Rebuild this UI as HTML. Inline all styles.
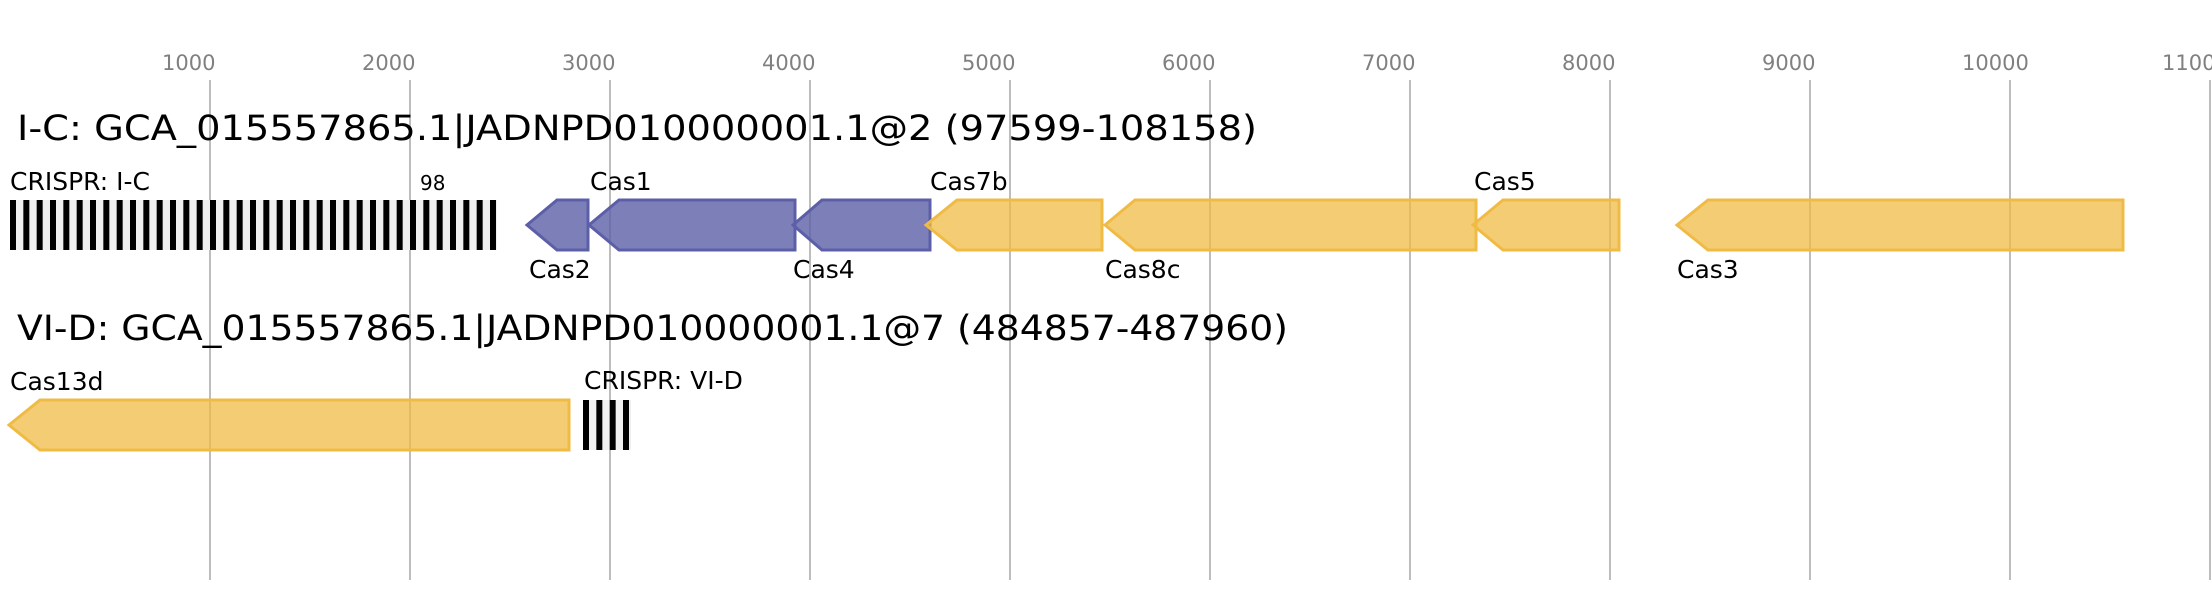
<!DOCTYPE html>
<html><head><meta charset="utf-8"><style>html,body{margin:0;padding:0;background:#fff}svg{display:block}</style></head>
<body>
<svg width="2212" height="600" viewBox="0 0 2212 600" xmlns="http://www.w3.org/2000/svg" font-family="DejaVu Sans, Liberation Sans, sans-serif">
<g stroke="#bdbdbd" stroke-width="2">
<line x1="210" y1="80" x2="210" y2="580"/><line x1="410" y1="80" x2="410" y2="580"/><line x1="610" y1="80" x2="610" y2="580"/><line x1="810" y1="80" x2="810" y2="580"/><line x1="1010" y1="80" x2="1010" y2="580"/><line x1="1210" y1="80" x2="1210" y2="580"/><line x1="1410" y1="80" x2="1410" y2="580"/><line x1="1610" y1="80" x2="1610" y2="580"/><line x1="1810" y1="80" x2="1810" y2="580"/><line x1="2010" y1="80" x2="2010" y2="580"/><line x1="2210" y1="80" x2="2210" y2="580"/>
</g>
<g fill="#808080" font-size="21">
<text x="162" y="70">1000</text><text x="362" y="70">2000</text><text x="562" y="70">3000</text><text x="762" y="70">4000</text><text x="962" y="70">5000</text><text x="1162" y="70">6000</text><text x="1362" y="70">7000</text><text x="1562" y="70">8000</text><text x="1762" y="70">9000</text><text x="1962" y="70">10000</text><text x="2162" y="70">11000</text>
</g>
<text x="17" y="140" font-size="35" textLength="1240" lengthAdjust="spacingAndGlyphs">I-C: GCA_015557865.1|JADNPD010000001.1@2 (97599-108158)</text>
<text x="17" y="340" font-size="35" textLength="1271" lengthAdjust="spacingAndGlyphs">VI-D: GCA_015557865.1|JADNPD010000001.1@7 (484857-487960)</text>
<g font-size="25">
<text x="10" y="190">CRISPR: I-C</text>
<text x="590" y="190">Cas1</text>
<text x="930" y="190">Cas7b</text>
<text x="1474" y="190">Cas5</text>
<text x="529" y="278">Cas2</text>
<text x="793" y="278">Cas4</text>
<text x="1105" y="278">Cas8c</text>
<text x="1677" y="278">Cas3</text>
<text x="10" y="390">Cas13d</text>
<text x="584" y="389">CRISPR: VI-D</text>
</g>
<text x="420" y="190" font-size="20">98</text>
<rect x="10" y="200" width="487" height="50" fill="#f0f0f0"/>
<g fill="#000">
<rect x="10" y="200" width="6" height="50"/><rect x="23.33" y="200" width="6" height="50"/><rect x="36.67" y="200" width="6" height="50"/><rect x="50" y="200" width="6" height="50"/><rect x="63.33" y="200" width="6" height="50"/><rect x="76.67" y="200" width="6" height="50"/><rect x="90" y="200" width="6" height="50"/><rect x="103.33" y="200" width="6" height="50"/><rect x="116.67" y="200" width="6" height="50"/><rect x="130" y="200" width="6" height="50"/><rect x="143.33" y="200" width="6" height="50"/><rect x="156.67" y="200" width="6" height="50"/><rect x="170" y="200" width="6" height="50"/><rect x="183.33" y="200" width="6" height="50"/><rect x="196.67" y="200" width="6" height="50"/><rect x="210" y="200" width="6" height="50"/><rect x="223.33" y="200" width="6" height="50"/><rect x="236.67" y="200" width="6" height="50"/><rect x="250" y="200" width="6" height="50"/><rect x="263.33" y="200" width="6" height="50"/><rect x="276.67" y="200" width="6" height="50"/><rect x="290" y="200" width="6" height="50"/><rect x="303.33" y="200" width="6" height="50"/><rect x="316.67" y="200" width="6" height="50"/><rect x="330" y="200" width="6" height="50"/><rect x="343.33" y="200" width="6" height="50"/><rect x="356.67" y="200" width="6" height="50"/><rect x="370" y="200" width="6" height="50"/><rect x="383.33" y="200" width="6" height="50"/><rect x="396.67" y="200" width="6" height="50"/><rect x="410" y="200" width="6" height="50"/><rect x="423.33" y="200" width="6" height="50"/><rect x="436.67" y="200" width="6" height="50"/><rect x="450" y="200" width="6" height="50"/><rect x="463.33" y="200" width="6" height="50"/><rect x="476.67" y="200" width="6" height="50"/><rect x="490" y="200" width="6" height="50"/>
</g>
<rect x="583" y="400" width="48" height="50" fill="#f0f0f0"/>
<g fill="#000">
<rect x="583" y="400" width="6" height="50"/><rect x="596.33" y="400" width="6" height="50"/><rect x="609.67" y="400" width="6" height="50"/><rect x="623" y="400" width="6" height="50"/>
</g>
<g fill="#5c5fa8" fill-opacity="0.8" stroke="#5c5fa8" stroke-width="3" stroke-linejoin="miter">
<polygon points="527,225 557,200 588,200 588,250 557,250"/>
<polygon points="589,225 619,200 795,200 795,250 619,250"/>
<polygon points="793,225 822,200 930,200 930,250 822,250"/>
</g>
<g fill="#efbb45" fill-opacity="0.75" stroke="#efbb45" stroke-width="3">
<polygon points="926,225 957,200 1102,200 1102,250 957,250"/>
<polygon points="1105,225 1135,200 1476,200 1476,250 1135,250"/>
<polygon points="1473,225 1503,200 1619,200 1619,250 1503,250"/>
<polygon points="1677,225 1708,200 2123,200 2123,250 1708,250"/>
<polygon points="9,425 40,400 569,400 569,450 40,450"/>
</g>
</svg>
</body></html>
